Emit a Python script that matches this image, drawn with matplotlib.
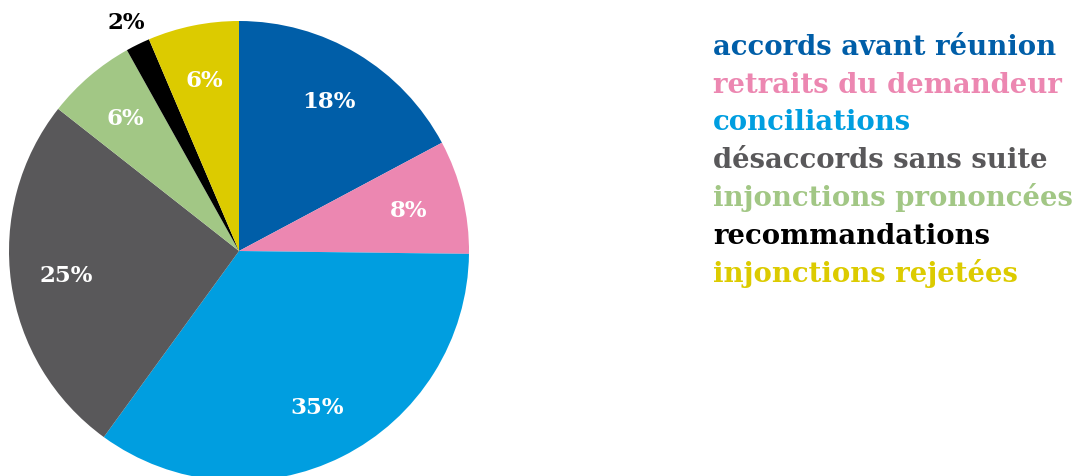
import matplotlib.pyplot as plt

# parts (en %)
categories = ["accords avant réunion", "retraits du demandeur", "conciliations",
              "désaccords sans suite", "injonctions prononcées", "recommandations",
              "injonctions rejetées"]
values = [17.2, 8.0, 34.8, 25.6, 6.3, 1.7, 6.4]
pct_labels = ["18%", "8%", "35%", "25%", "6%", "2%", "6%"]
colors = ["#005EA8", "#EC87B1", "#009EE0", "#59585A", "#A2C785", "#000000", "#DCCB00"]

W, H = 1076, 477
fig = plt.figure(figsize=(W / 100, H / 100), dpi=100)

# camembert : centre (239, 252), rayon 230 px
cx, cy, r = 239, 252, 230
ax = fig.add_axes([(cx - r) / W, (H - cy - r) / H, 2 * r / W, 2 * r / H])
wedges, texts = ax.pie(values, colors=colors, startangle=90, counterclock=False,
                       labels=pct_labels, labeldistance=0.76,
                       wedgeprops=dict(linewidth=0))
ax.set_xlim(-1, 1)
ax.set_ylim(-1, 1)
ax.set_aspect("equal")

for i, t in enumerate(texts):
    t.set_fontfamily("DejaVu Serif")
    t.set_fontweight("bold")
    t.set_fontsize(16.5)
    t.set_ha("center")
    t.set_va("center")
    t.set_color("white")
    if pct_labels[i] == "2%":
        # petite part : étiquette à l'extérieur
        x, y = t.get_position()
        t.set_position((x * 1.46, y * 1.46))
        t.set_color("black")

# légende en texte coloré
baselines = [55, 93, 130, 168, 206, 244, 282]
for name, col, yb in zip(categories, colors, baselines):
    fig.text(713 / W, 1 - yb / H, name, color=col, fontsize=19.8,
             fontfamily="DejaVu Serif", fontweight="bold",
             ha="left", va="baseline")

fig.savefig("out.png", dpi=100)
